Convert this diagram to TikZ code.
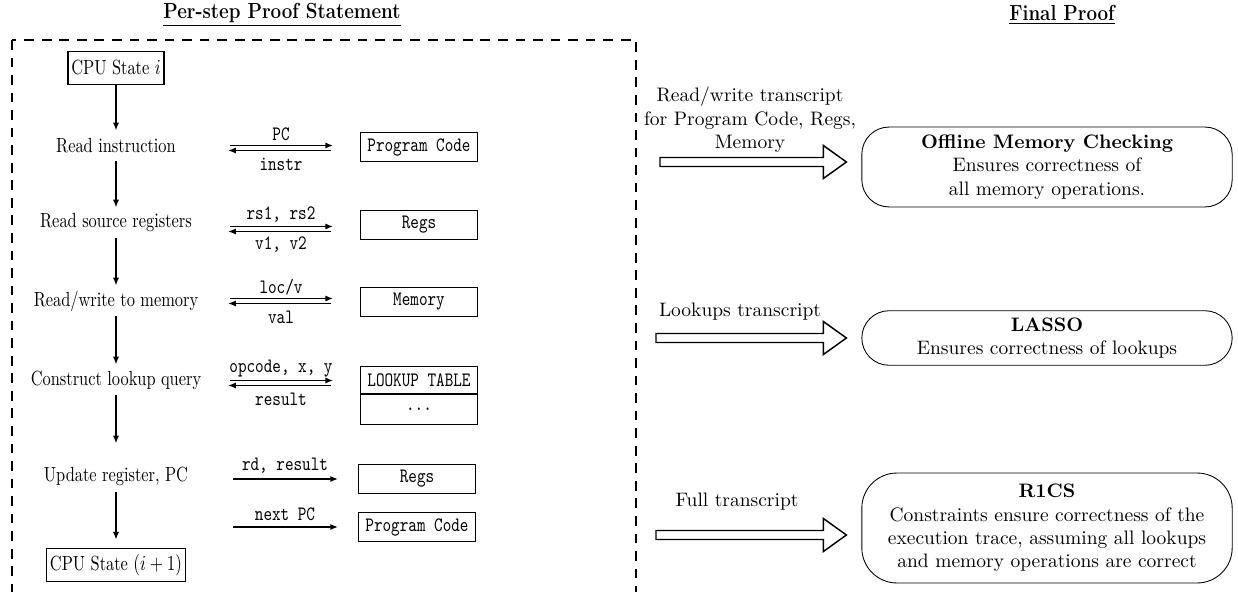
\documentclass[tikz,border=0pt]{standalone}
\usepackage{graphicx}
\usetikzlibrary{arrows.meta,calc}
\newcommand\lsz{\fontsize{10.5}{12.6}\selectfont}
\newcommand\sq[1]{\scalebox{0.8}[1]{#1}}
\newcommand\sqt[1]{\scalebox{0.86}[1]{#1}}
\tikzset{
  stepnode/.style={minimum height=15.5pt, inner sep=2pt, font=\lsz},
  cpubox/.style={draw, line width=0.9pt, minimum height=17pt, inner xsep=1.8pt, inner ysep=2pt, font=\lsz},
  membox/.style={draw, line width=0.45pt, minimum width=60pt, minimum height=14.8pt, font=\lsz\ttfamily, inner sep=2pt},
  flow/.style={-{Latex[length=4pt,width=3.2pt]}, line width=0.8pt},
  lbl/.style={font=\lsz\ttfamily, inner sep=1pt},
  fat/.style={draw, line width=0.75pt, fill=white, line join=miter},
  proof/.style={draw, line width=0.45pt, rounded corners=14pt, minimum width=190pt, align=center, inner sep=2pt},
  ttl/.style={font=\fontsize{11.2}{13.5}\selectfont\bfseries, inner sep=1pt},
  frame/.style={draw, line width=0.7pt, dash pattern=on 5pt off 4pt},
  note/.style={align=center, inner sep=1pt},
}
\newcommand\dualrow[4]{%
  \draw[flow] ($(#1)+(2,-2.5)$) -- ($(#2.west |- #1)+(-27,-2.5)$);
  \draw[flow] ($(#2.west |- #1)+(-29,2.5)$) -- ($(#1)+(0,2.5)$);
  \node[lbl] (#1u) at ($(#1)+(53,-14)$) {\sq{#3}};
  \node[lbl] (#1d) at ($(#1)+(53,16)$) {\sq{#4}};
}
\newcommand\fatarrow[2]{%
  \draw[fat] ($(#1)+(0,-4.5)$) -- ($(#2.west |- #1)+(-38,-4.5)$) -- ($(#2.west |- #1)+(-38,-16.5)$)
    -- ($(#2.west |- #1)+(-15,0)$) -- ($(#2.west |- #1)+(-38,16.5)$) -- ($(#2.west |- #1)+(-38,4.5)$)
    -- ($(#1)+(0,4.5)$) -- cycle;
}
\begin{document}
\begin{tikzpicture}[x=0.513pt,y=-0.513pt]
\useasboundingbox (0,0) rectangle (1238,592);
\begin{scope}
  \clip (0,0) rectangle (1238,592);
  \path[frame] (12,40) rectangle (636,620);
\end{scope}

% titles
\node[ttl] (t1) at (282,15) {\sqt{\underline{Per-step Proof Statement}}};
\node[ttl] (t2) at (1062,15) {\sqt{\underline{Final Proof}}};

% left column
\node[cpubox] (cpu0) at (116,68) {\sq{CPU State $i$}};
\node[stepnode] (s1) at (116,146) {\sq{Read instruction}};
\node[stepnode] (s2) at (116,223) {\sq{Read source registers}};
\node[stepnode] (s3) at (116,301) {\sq{Read/write to memory}};
\node[stepnode] (s4) at (116,380) {\sq{Construct lookup query}};
\node[stepnode] (s5) at (116,476) {\sq{Update register, PC}};
\node[cpubox] (cpu1) at (116,565) {\sq{CPU State $(i+1)$}};

\draw[flow] (cpu0) -- (s1);
\draw[flow] (s1) -- (s2);
\draw[flow] (s2) -- (s3);
\draw[flow] (s3) -- (s4);
\draw[flow, shorten >=17pt*0.513] (s4) -- (s5);
\draw[flow, shorten >=4pt] (s5) -- (cpu1);

% memory boxes
\node[membox] (pc) at (419,147) {\sq{Program Code}};
\node[membox] (regs) at (419,225) {\sq{Regs}};
\node[membox] (mem) at (419,302) {\sq{Memory}};
\node[membox, minimum height=14pt] (lt) at (419,380) {\sq{LOOKUP TABLE}};
\node[membox, anchor=north, minimum height=15.4pt] (ltd) at (lt.south) {\sq{...}};
\node[membox] (regsb) at (417,479) {\sq{Regs}};
\node[membox] (pcb) at (417,527) {\sq{Program Code}};

% two-way transfers
\coordinate (a1) at (228,148);
\coordinate (a2) at (228,229);
\coordinate (a3) at (228,301);
\coordinate (a4) at (228,383);
\dualrow{a1}{pc}{PC}{instr}
\dualrow{a2}{regs}{rs1, rs2}{v1, v2}
\dualrow{a3}{mem}{loc/v}{val}
\dualrow{a4}{lt}{opcode, x, y}{result}

% one-way transfers
\coordinate (a5) at (233,479);
\coordinate (a6) at (233,527);
\draw[flow] (a5) -- ($(regsb.west |- a5)+(-20,0)$);
\draw[flow] (a6) -- ($(pcb.west |- a6)+(-20,0)$);
\node[lbl] (a5u) at ($(a5)+(52,-13)$) {\sq{rd, result}};
\node[lbl] (a6u) at ($(a6)+(52,-13)$) {\sq{next PC}};

% final proof column
\node[proof, minimum height=41pt] (off) at (1047,167)
  {\textbf{Offline Memory Checking}\\Ensures correctness of\\all memory operations.};
\node[proof, minimum height=28pt] (lasso) at (1047,338)
  {\textbf{LASSO}\\Ensures correctness of lookups};
\node[proof, minimum height=56.4pt, rounded corners=18pt] (r1cs) at (1047,528)
  {\textbf{R1CS}\\Constraints ensure correctness of the\\execution trace, assuming all lookups\\and memory operations are correct};

\node[note] (n1) at (750,120) {Read/write transcript\\for Program Code, Regs,\\Memory};
\node[note] (n2) at (740,312) {Lookups transcript};
\node[note] (n3) at (737,502) {Full transcript};

\coordinate (f1) at (660,162);
\coordinate (f2) at (656,338);
\coordinate (f3) at (656,535);
\fatarrow{f1}{off}
\fatarrow{f2}{lasso}
\fatarrow{f3}{r1cs}
\end{tikzpicture}
\end{document}
